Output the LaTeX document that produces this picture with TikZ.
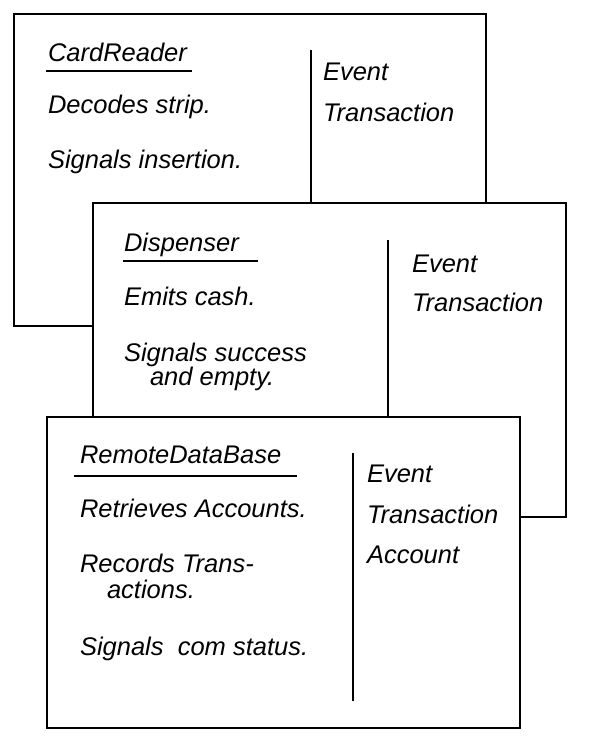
\documentclass[tikz,border=0pt]{standalone}
\usepackage{fontspec}
\setmainfont{Liberation Sans}
\begin{document}
\begin{tikzpicture}[x=1pt,y=-1pt,
  card/.style={draw=black, fill=white, line width=2.8pt, line join=miter, anchor=north west, inner sep=0pt, outer sep=0pt},
  divider/.style={draw=black, line width=2.6pt},
  uline/.style={draw=black, line width=2.4pt},
  txt/.style={anchor=base west, inner sep=0pt, outer sep=0pt, font=\fontsize{25.5}{30}\selectfont\itshape}]
\useasboundingbox (0,0) rectangle (590,747);

% Card 1: CardReader
\node[card, minimum width=472pt, minimum height=312pt] (c1) at (14,14) {};
\coordinate (d1t) at (311,50);
\coordinate (d1b) at (311,203);
\draw[divider] (d1t) -- (d1b);
\node[txt] (c1name) at (48,61) {CardReader};
\coordinate (u1a) at (46,71);
\coordinate (u1b) at (192,71);
\draw[uline] (u1a) -- (u1b);
\node[txt] (c1r1) at (48,113) {Decodes strip.};
\node[txt] (c1r2) at (48,168) {Signals insertion.};
\node[txt] (c1k1) at (323,80) {Event};
\node[txt] (c1k2) at (323,121) {Transaction};

% Card 2: Dispenser
\node[card, minimum width=473pt, minimum height=314pt] (c2) at (93,203) {};
\coordinate (d2t) at (388,240);
\coordinate (d2b) at (388,417);
\draw[divider] (d2t) -- (d2b);
\node[txt] (c2name) at (124,251) {Dispenser};
\coordinate (u2a) at (123,261);
\coordinate (u2b) at (258,261);
\draw[uline] (u2a) -- (u2b);
\node[txt] (c2r1) at (124,305) {Emits cash.};
\node[txt] (c2r2) at (124,361) {Signals success};
\node[txt] (c2r3) at (150,385) {and empty.};
\node[txt] (c2k1) at (412,272) {Event};
\node[txt] (c2k2) at (412,311) {Transaction};

% Card 3: RemoteDataBase
\node[card, minimum width=473pt, minimum height=311pt] (c3) at (47,417) {};
\coordinate (d3t) at (353,453);
\coordinate (d3b) at (353,701);
\draw[divider] (d3t) -- (d3b);
\node[txt] (c3name) at (80,463) {RemoteDataBase};
\coordinate (u3a) at (74,476);
\coordinate (u3b) at (297,476);
\draw[uline] (u3a) -- (u3b);
\node[txt] (c3r1) at (80,517) {Retrieves Accounts.};
\node[txt] (c3r2) at (80,572) {Records Trans-};
\node[txt] (c3r3) at (107,598) {actions.};
\node[txt] (c3r4) at (80,655) {Signals\ \ com status.};
\node[txt] (c3k1) at (367,482) {Event};
\node[txt] (c3k2) at (367,523) {Transaction};
\node[txt] (c3k3) at (367,563) {Account};
\end{tikzpicture}
\end{document}
